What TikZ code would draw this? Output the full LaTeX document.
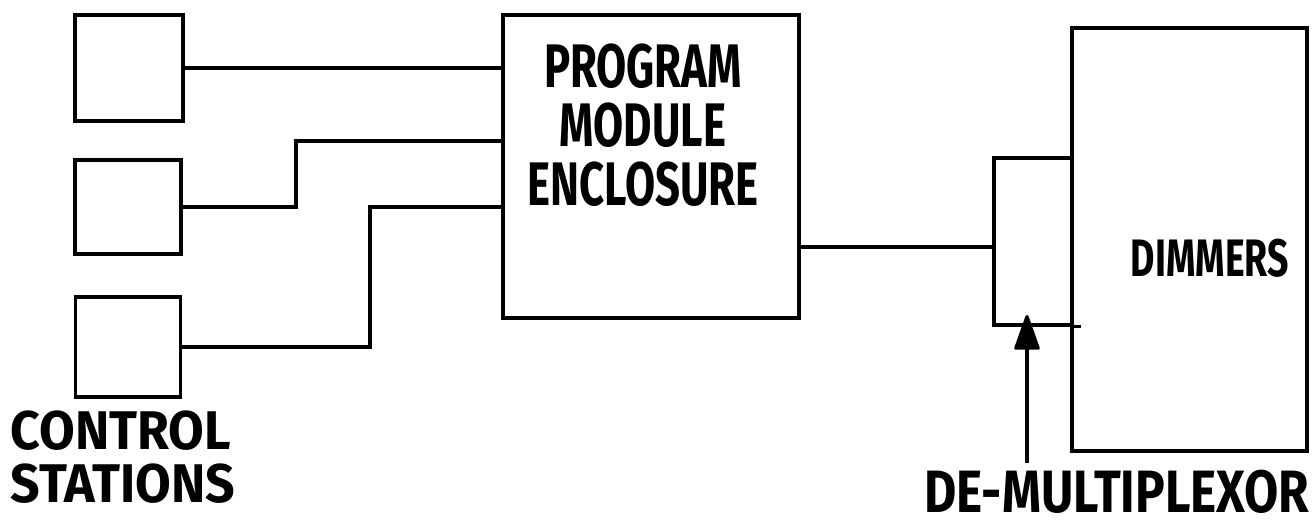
\documentclass[tikz,border=0pt]{standalone}
\usepackage{fontspec}
\setmainfont{Fira Sans}
\usetikzlibrary{arrows.meta}
\newcommand{\narrowtext}[2]{\scalebox{#1}[1]{#2}}
\tikzset{
  box/.style={draw,line width=0.9pt,inner sep=0pt},
  wire/.style={line width=0.9pt},
  lettering/.style n args={2}{font=\bfseries\fontsize{#1}{#2}\selectfont,inner sep=0pt},
}
\begin{document}
\begin{tikzpicture}
                \useasboundingbox(0,0)rectangle(13.12,5.24);
                \node[box,minimum width=1.08cm,minimum height=1.06cm](S1)at(1.29,4.56){};
                \node[box,minimum width=1.06cm,minimum height=0.94cm](S2)at(1.28,3.17){};
                \node[box,minimum width=1.05cm,minimum height=1.00cm](S3)at(1.28,1.77){};
                \node[box,minimum width=2.96cm,minimum height=3.03cm](PME)at(6.51,3.575){};
                \node[box,minimum width=2.35cm,minimum height=4.23cm](DIM)at(11.895,2.845){};
                \node[box,minimum width=0.78cm,minimum height=1.67cm](DMX)at(10.33,2.825){};
                \coordinate(B2)at(2.96,3.83);
                \coordinate(B3)at(3.70,3.17);
                \coordinate(OUT)at([yshift=-0.805cm]PME.east);
                \coordinate(A)at(10.27,0.61);
                \coordinate(TIP)at(10.27,2.09);
                \draw[wire](S1.east)--(S1.east-|PME.west);
                \draw[wire](S2.east)-|(B2)--(B2-|PME.west);
                \draw[wire](S3.east)-|(B3)--(B3-|PME.west);
                \draw[wire](OUT)--(OUT-|DMX.west);
                \draw[wire](DMX.south east)--++(0.07,0);
                \draw[wire,-{Triangle[width=0.26cm,length=0.38cm,round]}](A)--(TIP);
                \node[lettering={17.5}{16.8},align=center](T1)at(6.43,3.99){\narrowtext{0.71}{PROGRAM}\\\narrowtext{0.71}{MODULE}\\\narrowtext{0.71}{ENCLOSURE}};
                \node[lettering={15.5}{15.2},align=left](T2)at(1.23,0.67){\narrowtext{0.95}{CONTROL}\\\narrowtext{0.95}{STATIONS}};
                \node[lettering={15}{15}](T3)at(12.10,2.66){\narrowtext{0.71}{DIMMERS}};
                \node[lettering={17}{17}](T4)at(11.17,0.32){\narrowtext{0.83}{DE-MULTIPLEXOR}};
            \end{tikzpicture}
\end{document}
